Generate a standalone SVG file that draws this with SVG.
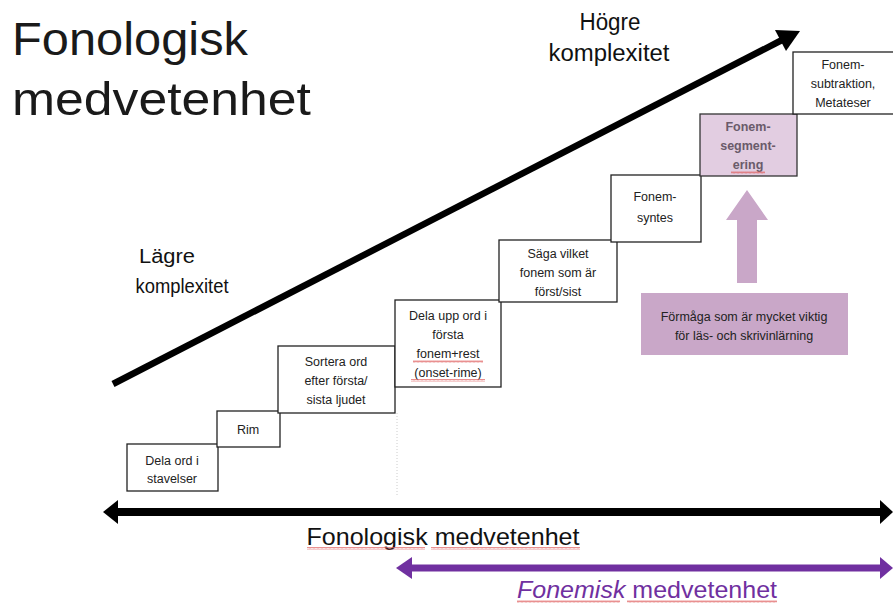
<svg xmlns="http://www.w3.org/2000/svg" width="893" height="603" viewBox="0 0 893 603">
<style>
text{font-family:"Liberation Sans",Arial,sans-serif;fill:#222}
.box{fill:#fff;stroke:#222;stroke-width:1.3}
.bt{font-size:12.5px;text-anchor:middle}
.big{text-anchor:middle;fill:#111}
</style>
<defs>
<pattern id="sq" width="4" height="3" patternUnits="userSpaceOnUse">
<path d="M0 2.5 L1 0.5 L2 2.5 L3 0.5 L4 2.5" fill="none" stroke="#e06060" stroke-width="0.7"/>
</pattern>
</defs>
<rect width="893" height="603" fill="#fff"/>
<text x="12" y="55" font-size="46" textLength="236" lengthAdjust="spacingAndGlyphs" style="fill:#1a1a1a">Fonologisk</text>
<text x="12" y="115" font-size="46" textLength="299" lengthAdjust="spacingAndGlyphs" style="fill:#1a1a1a">medvetenhet</text>
<text class="big" x="610" y="30" font-size="23" textLength="61" lengthAdjust="spacingAndGlyphs">Högre</text>
<text class="big" x="609" y="61" font-size="23" textLength="121" lengthAdjust="spacingAndGlyphs">komplexitet</text>
<text class="big" x="167" y="263" font-size="20" textLength="56" lengthAdjust="spacingAndGlyphs">Lägre</text>
<text class="big" x="182" y="293" font-size="20" textLength="93" lengthAdjust="spacingAndGlyphs">komplexitet</text>
<g id="connectors">
<line x1="113" y1="384" x2="782" y2="40" stroke="#000" stroke-width="6.5"/>
<polygon points="800,31 786,51 775,30" fill="#000"/>
<line x1="397" y1="413" x2="397" y2="496" stroke="#ccc" stroke-width="1" stroke-dasharray="1,2"/>
<line x1="112" y1="512" x2="886" y2="512" stroke="#000" stroke-width="8"/>
<polygon points="103,512 118,500 118,524" fill="#000"/>
<polygon points="893,512 880,500 880,524" fill="#000"/>
<line x1="408" y1="568" x2="886" y2="568" stroke="#7030a0" stroke-width="7"/>
<polygon points="396,568 412,557 412,579" fill="#7030a0"/>
<polygon points="893,568 880,557 880,579" fill="#7030a0"/>
<polygon points="747,190 768,220 757,220 757,283 737,283 737,220 726,220" fill="#c9a7c8"/>
</g>
<text x="443" y="545" font-size="24" text-anchor="middle" textLength="273" lengthAdjust="spacingAndGlyphs" style="fill:#111">Fonologisk medvetenhet</text>
<rect x="307" y="547" width="118" height="3" fill="url(#sq)"/>
<rect x="431" y="547" width="149" height="3" fill="url(#sq)"/>
<text x="517" y="598" font-size="24" textLength="260" lengthAdjust="spacingAndGlyphs" style="fill:#7030a0"><tspan font-style="italic">Fonemisk</tspan> medvetenhet</text>
<rect x="517" y="600" width="103" height="3" fill="url(#sq)"/>
<rect x="627" y="600" width="150" height="3" fill="url(#sq)"/>
<g id="n1"><rect class="box" x="127" y="444" width="91" height="47"/><text class="bt" x="172" y="465">Dela ord i</text><text class="bt" x="172" y="483">stavelser</text></g>
<g id="n2"><rect class="box" x="217" y="411" width="63" height="36"/><text class="bt" x="248" y="434">Rim</text></g>
<g id="n3"><rect class="box" x="278" y="346" width="117" height="67"/><text class="bt" x="336" y="366">Sortera ord</text><text class="bt" x="336" y="385">efter första/</text><text class="bt" x="336" y="404">sista ljudet</text></g>
<g id="n4"><rect class="box" x="395" y="300" width="106" height="87"/><text class="bt" x="448" y="320">Dela upp ord i</text><text class="bt" x="448" y="339">första</text><text class="bt" x="448" y="358">fonem+rest</text><text class="bt" x="448" y="377">(onset-rime)</text>
<rect x="413" y="360" width="70" height="3" fill="url(#sq)"/><rect x="411" y="379" width="74" height="3" fill="url(#sq)"/></g>
<g id="n5"><rect class="box" x="499" y="240" width="118" height="62"/><text class="bt" x="558" y="258">Säga vilket</text><text class="bt" x="558" y="277">fonem som är</text><text class="bt" x="558" y="296">först/sist</text></g>
<g id="n6"><rect class="box" x="611" y="175" width="90" height="67"/><text class="bt" x="655" y="201">Fonem-</text><text class="bt" x="655" y="222">syntes</text></g>
<g id="n7"><rect x="700" y="114" width="97" height="62" fill="#e2cde1" stroke="#333" stroke-width="1.3"/><text class="bt" x="748" y="131" font-weight="bold" style="fill:#6a5b6a">Fonem-</text><text class="bt" x="748" y="150" font-weight="bold" style="fill:#6a5b6a">segment-</text><text class="bt" x="748" y="169" font-weight="bold" style="fill:#6a5b6a">ering</text>
<rect x="731" y="171" width="34" height="3" fill="url(#sq)"/></g>
<g id="n8"><rect class="box" x="793" y="52" width="102" height="62"/><text class="bt" x="843" y="69">Fonem-</text><text class="bt" x="843" y="88">subtraktion,</text><text class="bt" x="843" y="107">Metateser</text></g>
<g id="n9"><rect x="641" y="293" width="207" height="62" fill="#c9a7c8"/><text class="bt" x="744" y="321">Förmåga som är mycket viktig</text><text class="bt" x="744" y="340">för läs- och skrivinlärning</text></g>
</svg>
